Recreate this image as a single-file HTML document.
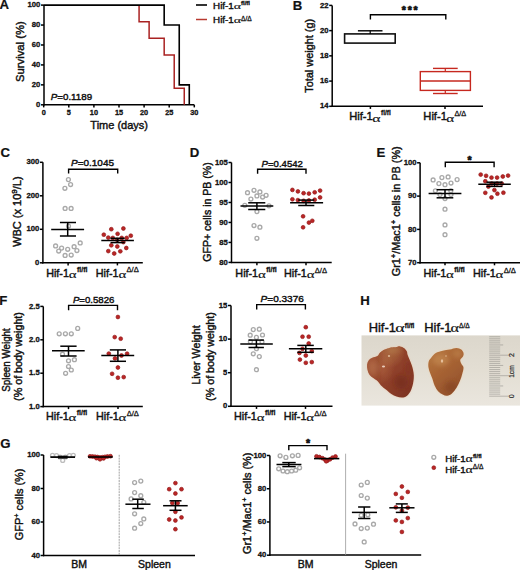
<!DOCTYPE html>
<html><head><meta charset="utf-8"><style>
html,body{margin:0;padding:0;background:#fff;width:520px;height:570px;overflow:hidden}
svg{display:block;font-family:"Liberation Sans", sans-serif}
</style></head><body>
<svg width="520" height="570" viewBox="0 0 520 570">
<rect width="520" height="570" fill="#fff"/>
<text x="-0.43" y="9.1" font-size="13.2" font-weight="bold" text-anchor="start" font-style="normal" fill="#111" stroke="#111" stroke-width="0.2" >A</text>
<line x1="44" y1="5.1" x2="44" y2="105.5" stroke="#000" stroke-width="1.5"/>
<line x1="41" y1="5.1" x2="44" y2="5.1" stroke="#000" stroke-width="1.5"/>
<text x="40.4" y="7.199999999999999" font-size="7.7" font-weight="bold" text-anchor="end" font-style="normal" fill="#111" stroke="#111" stroke-width="0.3" >100</text>
<line x1="41" y1="25.04" x2="44" y2="25.04" stroke="#000" stroke-width="1.5"/>
<text x="40.4" y="27.14" font-size="7.7" font-weight="bold" text-anchor="end" font-style="normal" fill="#111" stroke="#111" stroke-width="0.3" >80</text>
<line x1="41" y1="44.98" x2="44" y2="44.98" stroke="#000" stroke-width="1.5"/>
<text x="40.4" y="47.08" font-size="7.7" font-weight="bold" text-anchor="end" font-style="normal" fill="#111" stroke="#111" stroke-width="0.3" >60</text>
<line x1="41" y1="64.92" x2="44" y2="64.92" stroke="#000" stroke-width="1.5"/>
<text x="40.4" y="67.02" font-size="7.7" font-weight="bold" text-anchor="end" font-style="normal" fill="#111" stroke="#111" stroke-width="0.3" >40</text>
<line x1="41" y1="84.86" x2="44" y2="84.86" stroke="#000" stroke-width="1.5"/>
<text x="40.4" y="86.96" font-size="7.7" font-weight="bold" text-anchor="end" font-style="normal" fill="#111" stroke="#111" stroke-width="0.3" >20</text>
<line x1="41" y1="104.8" x2="44" y2="104.8" stroke="#000" stroke-width="1.5"/>
<text x="40.4" y="106.89999999999999" font-size="7.7" font-weight="bold" text-anchor="end" font-style="normal" fill="#111" stroke="#111" stroke-width="0.3" >0</text>
<line x1="43.3" y1="104.8" x2="194.3" y2="104.8" stroke="#000" stroke-width="1.5"/>
<line x1="43.7" y1="104.8" x2="43.7" y2="107.39999999999999" stroke="#000" stroke-width="1.5"/>
<line x1="68.8" y1="104.8" x2="68.8" y2="107.39999999999999" stroke="#000" stroke-width="1.5"/>
<line x1="93.9" y1="104.8" x2="93.9" y2="107.39999999999999" stroke="#000" stroke-width="1.5"/>
<line x1="119.0" y1="104.8" x2="119.0" y2="107.39999999999999" stroke="#000" stroke-width="1.5"/>
<line x1="144.1" y1="104.8" x2="144.1" y2="107.39999999999999" stroke="#000" stroke-width="1.5"/>
<line x1="169.2" y1="104.8" x2="169.2" y2="107.39999999999999" stroke="#000" stroke-width="1.5"/>
<line x1="194.3" y1="104.8" x2="194.3" y2="107.39999999999999" stroke="#000" stroke-width="1.5"/>
<text x="43.7" y="115.2" font-size="7.3" font-weight="bold" text-anchor="middle" font-style="normal" fill="#111" stroke="#111" stroke-width="0.3" >0</text>
<text x="68.8" y="115.2" font-size="7.3" font-weight="bold" text-anchor="middle" font-style="normal" fill="#111" stroke="#111" stroke-width="0.3" >5</text>
<text x="93.9" y="115.2" font-size="7.3" font-weight="bold" text-anchor="middle" font-style="normal" fill="#111" stroke="#111" stroke-width="0.3" >10</text>
<text x="119.0" y="115.2" font-size="7.3" font-weight="bold" text-anchor="middle" font-style="normal" fill="#111" stroke="#111" stroke-width="0.3" >15</text>
<text x="144.1" y="115.2" font-size="7.3" font-weight="bold" text-anchor="middle" font-style="normal" fill="#111" stroke="#111" stroke-width="0.3" >20</text>
<text x="169.2" y="115.2" font-size="7.3" font-weight="bold" text-anchor="middle" font-style="normal" fill="#111" stroke="#111" stroke-width="0.3" >25</text>
<text x="194.3" y="115.2" font-size="7.3" font-weight="bold" text-anchor="middle" font-style="normal" fill="#111" stroke="#111" stroke-width="0.3" >30</text>
<text x="119.2" y="128.8" font-size="11" font-weight="normal" text-anchor="middle" font-style="normal" fill="#111" stroke="#111" stroke-width="0.42" >Time (days)</text>
<text x="24.5" y="51.6" font-size="11" text-anchor="middle" fill="#111" stroke="#111" stroke-width="0.42" transform="rotate(-90 24.5 51.6)" textLength="60.8" lengthAdjust="spacingAndGlyphs" >Survival (%)</text>
<path d="M139.08,5.1 V21.72 H149.12 V38.33 H164.18 V54.95 H174.22 V88.18 H184.26 V104.8" stroke="#a92222" stroke-width="1.5" fill="none" />
<path d="M44,5.1 H164.18 V25.04 H179.24 V84.86 H189.28 V104.8" stroke="#000" stroke-width="1.6" fill="none" />
<line x1="196" y1="5" x2="207" y2="5" stroke="#000" stroke-width="1.6"/>
<line x1="196" y1="19.5" x2="207" y2="19.5" stroke="#b83a30" stroke-width="1.5"/>
<text x="213.12" y="9.1" font-size="9.8" fill="#111" stroke="#111" stroke-width="0.42">Hif-1</text>
<text transform="translate(234.20 9.10) scale(1.530 1)" x="-0.36" y="0" font-size="9.05" font-family="Liberation Serif, serif" fill="#111" stroke="#111" stroke-width="0.15">&#945;</text>
<text x="240.91" y="5.20" font-size="6.1" font-weight="bold" fill="#111" stroke="#111" stroke-width="0.29">fl/fl</text>
<text x="213.12" y="23.4" font-size="9.8" fill="#111" stroke="#111" stroke-width="0.42">Hif-1</text>
<text transform="translate(234.20 23.40) scale(1.530 1)" x="-0.36" y="0" font-size="9.05" font-family="Liberation Serif, serif" fill="#111" stroke="#111" stroke-width="0.15">&#945;</text>
<text x="241.11" y="20.80" font-size="6.6" font-weight="normal" fill="#111" stroke="#111" stroke-width="0.29">&#916;/&#916;</text>
<text x="50.8" y="99.6" font-size="9.5" fill="#111" stroke="#111" stroke-width="0.42" textLength="41.3" lengthAdjust="spacingAndGlyphs"><tspan font-style="italic">P</tspan>=0.1189</text>
<text x="292.84" y="9.6" font-size="13.2" font-weight="bold" text-anchor="start" font-style="normal" fill="#111" stroke="#111" stroke-width="0.2" >B</text>
<line x1="332.2" y1="5.4" x2="332.2" y2="107.0" stroke="#000" stroke-width="1.5"/>
<line x1="329.2" y1="5.4" x2="332.2" y2="5.4" stroke="#000" stroke-width="1.5"/>
<text x="328.59999999999997" y="7.5" font-size="7.7" font-weight="bold" text-anchor="end" font-style="normal" fill="#111" stroke="#111" stroke-width="0.3" >22</text>
<line x1="329.2" y1="30.62" x2="332.2" y2="30.62" stroke="#000" stroke-width="1.5"/>
<text x="328.59999999999997" y="32.72" font-size="7.7" font-weight="bold" text-anchor="end" font-style="normal" fill="#111" stroke="#111" stroke-width="0.3" >20</text>
<line x1="329.2" y1="55.85" x2="332.2" y2="55.85" stroke="#000" stroke-width="1.5"/>
<text x="328.59999999999997" y="57.95" font-size="7.7" font-weight="bold" text-anchor="end" font-style="normal" fill="#111" stroke="#111" stroke-width="0.3" >18</text>
<line x1="329.2" y1="81.08" x2="332.2" y2="81.08" stroke="#000" stroke-width="1.5"/>
<text x="328.59999999999997" y="83.17999999999999" font-size="7.7" font-weight="bold" text-anchor="end" font-style="normal" fill="#111" stroke="#111" stroke-width="0.3" >16</text>
<line x1="329.2" y1="106.3" x2="332.2" y2="106.3" stroke="#000" stroke-width="1.5"/>
<text x="328.59999999999997" y="108.39999999999999" font-size="7.7" font-weight="bold" text-anchor="end" font-style="normal" fill="#111" stroke="#111" stroke-width="0.3" >14</text>
<line x1="331.5" y1="106.3" x2="483" y2="106.3" stroke="#000" stroke-width="1.5"/>
<line x1="370.4" y1="106.3" x2="370.4" y2="108.89999999999999" stroke="#000" stroke-width="1.5"/>
<line x1="445" y1="106.3" x2="445" y2="108.89999999999999" stroke="#000" stroke-width="1.5"/>
<text x="313.5" y="55.8" font-size="11" text-anchor="middle" fill="#111" stroke="#111" stroke-width="0.42" transform="rotate(-90 313.5 55.8)" textLength="74" lengthAdjust="spacingAndGlyphs" >Total weight (g)</text>
<text x="349.20" y="119.8" font-size="11.2" fill="#111" stroke="#111" stroke-width="0.42">Hif-1</text>
<text transform="translate(372.88 121.90) scale(1.418 1)" x="-0.45" y="0" font-size="11.16" font-family="Liberation Serif, serif" fill="#111" stroke="#111" stroke-width="0.15">&#945;</text>
<text x="381.08" y="114.50" font-size="6.4" font-weight="bold" fill="#111" stroke="#111" stroke-width="0.29">fl/fl</text>
<text x="423.30" y="119.8" font-size="11.2" fill="#111" stroke="#111" stroke-width="0.42">Hif-1</text>
<text transform="translate(446.98 121.90) scale(1.359 1)" x="-0.45" y="0" font-size="11.16" font-family="Liberation Serif, serif" fill="#111" stroke="#111" stroke-width="0.15">&#945;</text>
<text x="454.46" y="116.10" font-size="7.3" font-weight="normal" fill="#111" stroke="#111" stroke-width="0.29">&#916;/&#916;</text>
<rect x="344.6" y="33.9" width="50.6" height="9.2" fill="none" stroke="#111" stroke-width="1.6"/>
<line x1="357.9" y1="30.8" x2="382.5" y2="30.8" stroke="#000" stroke-width="1.4"/>
<line x1="370.2" y1="30.8" x2="370.2" y2="33.9" stroke="#000" stroke-width="1.2"/>
<rect x="420.3" y="71.6" width="50.1" height="18.8" fill="none" stroke="#c6281f" stroke-width="1.4"/>
<line x1="420.3" y1="81.0" x2="470.4" y2="81.0" stroke="#c6281f" stroke-width="1.4"/>
<line x1="433" y1="68.4" x2="457.7" y2="68.4" stroke="#c6281f" stroke-width="1.4"/>
<line x1="433" y1="93.5" x2="457.7" y2="93.5" stroke="#c6281f" stroke-width="1.4"/>
<line x1="445.3" y1="68.4" x2="445.3" y2="71.6" stroke="#c6281f" stroke-width="1.2"/>
<line x1="445.3" y1="90.4" x2="445.3" y2="93.5" stroke="#c6281f" stroke-width="1.2"/>
<path d="M370.4,19.6 V14.8 H445.8 V19.6" stroke="#000" stroke-width="1.4" fill="none" />
<text x="401.85" y="13.76" font-size="10.5" font-weight="bold" fill="#111" stroke="#111" stroke-width="0.7" stroke-linejoin="round">*</text>
<text x="407.65" y="13.76" font-size="10.5" font-weight="bold" fill="#111" stroke="#111" stroke-width="0.7" stroke-linejoin="round">*</text>
<text x="413.45" y="13.76" font-size="10.5" font-weight="bold" fill="#111" stroke="#111" stroke-width="0.7" stroke-linejoin="round">*</text>
<text x="0.47" y="156.6" font-size="13.2" font-weight="bold" text-anchor="start" font-style="normal" fill="#111" stroke="#111" stroke-width="0.2" >C</text>
<line x1="42.9" y1="162.3" x2="42.9" y2="263.5" stroke="#000" stroke-width="1.5"/>
<line x1="39.9" y1="162.3" x2="42.9" y2="162.3" stroke="#000" stroke-width="1.5"/>
<text x="39.3" y="164.4" font-size="7.7" font-weight="bold" text-anchor="end" font-style="normal" fill="#111" stroke="#111" stroke-width="0.3" >300</text>
<line x1="39.9" y1="195.8" x2="42.9" y2="195.8" stroke="#000" stroke-width="1.5"/>
<text x="39.3" y="197.9" font-size="7.7" font-weight="bold" text-anchor="end" font-style="normal" fill="#111" stroke="#111" stroke-width="0.3" >200</text>
<line x1="39.9" y1="229.3" x2="42.9" y2="229.3" stroke="#000" stroke-width="1.5"/>
<text x="39.3" y="231.4" font-size="7.7" font-weight="bold" text-anchor="end" font-style="normal" fill="#111" stroke="#111" stroke-width="0.3" >100</text>
<line x1="39.9" y1="262.8" x2="42.9" y2="262.8" stroke="#000" stroke-width="1.5"/>
<text x="39.3" y="264.90000000000003" font-size="7.7" font-weight="bold" text-anchor="end" font-style="normal" fill="#111" stroke="#111" stroke-width="0.3" >0</text>
<line x1="42.199999999999996" y1="262.8" x2="142.8" y2="262.8" stroke="#000" stroke-width="1.5"/>
<line x1="68.1" y1="262.8" x2="68.1" y2="265.40000000000003" stroke="#000" stroke-width="1.5"/>
<line x1="117.4" y1="262.8" x2="117.4" y2="265.40000000000003" stroke="#000" stroke-width="1.5"/>
<text x="20.8" y="211.6" font-size="10.5" text-anchor="middle" fill="#111" stroke="#111" stroke-width="0.42" transform="rotate(-90 20.8 211.6)" textLength="70.5" lengthAdjust="spacingAndGlyphs" >WBC (x 10<tspan dy="-4" font-size="7.8">9</tspan><tspan dy="4">/L)</tspan></text>
<text x="46.14" y="276.5" font-size="10.8" fill="#111" stroke="#111" stroke-width="0.42">Hif-1</text>
<text transform="translate(69.38 277.70) scale(1.339 1)" x="-0.45" y="0" font-size="11.16" font-family="Liberation Serif, serif" fill="#111" stroke="#111" stroke-width="0.15">&#945;</text>
<text x="76.98" y="271.60" font-size="7.0" font-weight="bold" fill="#111" stroke="#111" stroke-width="0.29">fl/fl</text>
<text x="95.74" y="276.5" font-size="10.8" fill="#111" stroke="#111" stroke-width="0.42">Hif-1</text>
<text transform="translate(118.98 277.70) scale(1.339 1)" x="-0.45" y="0" font-size="11.16" font-family="Liberation Serif, serif" fill="#111" stroke="#111" stroke-width="0.15">&#945;</text>
<text x="126.46" y="272.20" font-size="7.6" font-weight="normal" fill="#111" stroke="#111" stroke-width="0.29">&#916;/&#916;</text>
<path d="M68.6,173.4 V169.2 H117.7 V173.4" stroke="#000" stroke-width="1.4" fill="none" />
<text x="71" y="166" font-size="9.5" fill="#111" stroke="#111" stroke-width="0.42" textLength="43" lengthAdjust="spacingAndGlyphs"><tspan font-style="italic">P</tspan>=0.1045</text>
<circle cx="64.9" cy="188.3" r="1.95" fill="none" stroke="#a9a9a9" stroke-width="1.35"/>
<circle cx="68.4" cy="179.6" r="1.95" fill="none" stroke="#a9a9a9" stroke-width="1.35"/>
<circle cx="70.6" cy="184.5" r="1.95" fill="none" stroke="#a9a9a9" stroke-width="1.35"/>
<circle cx="65.1" cy="208.4" r="1.95" fill="none" stroke="#a9a9a9" stroke-width="1.35"/>
<circle cx="71.1" cy="208.4" r="1.95" fill="none" stroke="#a9a9a9" stroke-width="1.35"/>
<circle cx="68.5" cy="226" r="1.95" fill="none" stroke="#a9a9a9" stroke-width="1.35"/>
<circle cx="55.6" cy="245.9" r="1.95" fill="none" stroke="#a9a9a9" stroke-width="1.35"/>
<circle cx="58.7" cy="251" r="1.95" fill="none" stroke="#a9a9a9" stroke-width="1.35"/>
<circle cx="61.6" cy="248.1" r="1.95" fill="none" stroke="#a9a9a9" stroke-width="1.35"/>
<circle cx="67.7" cy="249.3" r="1.95" fill="none" stroke="#a9a9a9" stroke-width="1.35"/>
<circle cx="74.1" cy="246.7" r="1.95" fill="none" stroke="#a9a9a9" stroke-width="1.35"/>
<circle cx="76.9" cy="250.5" r="1.95" fill="none" stroke="#a9a9a9" stroke-width="1.35"/>
<circle cx="80.2" cy="242.9" r="1.95" fill="none" stroke="#a9a9a9" stroke-width="1.35"/>
<circle cx="65.1" cy="255.4" r="1.95" fill="none" stroke="#a9a9a9" stroke-width="1.35"/>
<circle cx="71.2" cy="255" r="1.95" fill="none" stroke="#a9a9a9" stroke-width="1.35"/>
<line x1="51.2" y1="229.4" x2="84.1" y2="229.4" stroke="#000" stroke-width="1.5"/>
<line x1="59.9" y1="222.5" x2="76" y2="222.5" stroke="#000" stroke-width="1.5"/>
<line x1="59.9" y1="236" x2="76" y2="236" stroke="#000" stroke-width="1.5"/>
<line x1="67.7" y1="222.5" x2="67.7" y2="236" stroke="#000" stroke-width="1.5"/>
<circle cx="111.3" cy="229.2" r="1.9" fill="#ba2626" stroke="#951b1b" stroke-width="0.7"/>
<circle cx="123.4" cy="228.5" r="1.9" fill="#ba2626" stroke="#951b1b" stroke-width="0.7"/>
<circle cx="103.8" cy="234.7" r="1.9" fill="#ba2626" stroke="#951b1b" stroke-width="0.7"/>
<circle cx="117.6" cy="233.8" r="1.9" fill="#ba2626" stroke="#951b1b" stroke-width="0.7"/>
<circle cx="130.8" cy="235.7" r="1.9" fill="#ba2626" stroke="#951b1b" stroke-width="0.7"/>
<circle cx="108.3" cy="237.6" r="1.9" fill="#ba2626" stroke="#951b1b" stroke-width="0.7"/>
<circle cx="112.8" cy="237.9" r="1.9" fill="#ba2626" stroke="#951b1b" stroke-width="0.7"/>
<circle cx="121.7" cy="237.9" r="1.9" fill="#ba2626" stroke="#951b1b" stroke-width="0.7"/>
<circle cx="126.7" cy="237.9" r="1.9" fill="#ba2626" stroke="#951b1b" stroke-width="0.7"/>
<circle cx="117.1" cy="239.8" r="1.9" fill="#ba2626" stroke="#951b1b" stroke-width="0.7"/>
<circle cx="123.4" cy="242.1" r="1.9" fill="#ba2626" stroke="#951b1b" stroke-width="0.7"/>
<circle cx="111.3" cy="245.3" r="1.9" fill="#ba2626" stroke="#951b1b" stroke-width="0.7"/>
<circle cx="117.3" cy="246.5" r="1.9" fill="#ba2626" stroke="#951b1b" stroke-width="0.7"/>
<circle cx="126.3" cy="248" r="1.9" fill="#ba2626" stroke="#951b1b" stroke-width="0.7"/>
<circle cx="108.3" cy="251.1" r="1.9" fill="#ba2626" stroke="#951b1b" stroke-width="0.7"/>
<circle cx="120.3" cy="251.3" r="1.9" fill="#ba2626" stroke="#951b1b" stroke-width="0.7"/>
<circle cx="114.2" cy="253.5" r="1.9" fill="#ba2626" stroke="#951b1b" stroke-width="0.7"/>
<line x1="101.3" y1="240.5" x2="133.9" y2="240.5" stroke="#000" stroke-width="1.5"/>
<line x1="110.5" y1="238.3" x2="124.7" y2="238.3" stroke="#000" stroke-width="1.5"/>
<line x1="110.5" y1="242.6" x2="124.7" y2="242.6" stroke="#000" stroke-width="1.5"/>
<line x1="117.6" y1="238.3" x2="117.6" y2="242.6" stroke="#000" stroke-width="1.5"/>
<text x="189.64" y="157.0" font-size="13.2" font-weight="bold" text-anchor="start" font-style="normal" fill="#111" stroke="#111" stroke-width="0.2" >D</text>
<line x1="231.5" y1="162.5" x2="231.5" y2="263.09999999999997" stroke="#000" stroke-width="1.5"/>
<line x1="228.5" y1="162.5" x2="231.5" y2="162.5" stroke="#000" stroke-width="1.5"/>
<text x="227.9" y="164.6" font-size="7.7" font-weight="bold" text-anchor="end" font-style="normal" fill="#111" stroke="#111" stroke-width="0.3" >105</text>
<line x1="228.5" y1="182.48" x2="231.5" y2="182.48" stroke="#000" stroke-width="1.5"/>
<text x="227.9" y="184.57999999999998" font-size="7.7" font-weight="bold" text-anchor="end" font-style="normal" fill="#111" stroke="#111" stroke-width="0.3" >100</text>
<line x1="228.5" y1="202.46" x2="231.5" y2="202.46" stroke="#000" stroke-width="1.5"/>
<text x="227.9" y="204.56" font-size="7.7" font-weight="bold" text-anchor="end" font-style="normal" fill="#111" stroke="#111" stroke-width="0.3" >95</text>
<line x1="228.5" y1="222.44" x2="231.5" y2="222.44" stroke="#000" stroke-width="1.5"/>
<text x="227.9" y="224.54" font-size="7.7" font-weight="bold" text-anchor="end" font-style="normal" fill="#111" stroke="#111" stroke-width="0.3" >90</text>
<line x1="228.5" y1="242.42" x2="231.5" y2="242.42" stroke="#000" stroke-width="1.5"/>
<text x="227.9" y="244.51999999999998" font-size="7.7" font-weight="bold" text-anchor="end" font-style="normal" fill="#111" stroke="#111" stroke-width="0.3" >85</text>
<line x1="228.5" y1="262.4" x2="231.5" y2="262.4" stroke="#000" stroke-width="1.5"/>
<text x="227.9" y="264.5" font-size="7.7" font-weight="bold" text-anchor="end" font-style="normal" fill="#111" stroke="#111" stroke-width="0.3" >80</text>
<line x1="230.8" y1="262.6" x2="331.7" y2="262.6" stroke="#000" stroke-width="1.5"/>
<line x1="256.9" y1="262.6" x2="256.9" y2="265.20000000000005" stroke="#000" stroke-width="1.5"/>
<line x1="306" y1="262.6" x2="306" y2="265.20000000000005" stroke="#000" stroke-width="1.5"/>
<text x="211" y="212" font-size="10.5" text-anchor="middle" fill="#111" stroke="#111" stroke-width="0.42" transform="rotate(-90 211 212)" textLength="99.5" lengthAdjust="spacingAndGlyphs" >GFP+ cells in PB (%)</text>
<text x="235.34" y="276.8" font-size="10.8" fill="#111" stroke="#111" stroke-width="0.42">Hif-1</text>
<text transform="translate(258.58 278.00) scale(1.339 1)" x="-0.45" y="0" font-size="11.16" font-family="Liberation Serif, serif" fill="#111" stroke="#111" stroke-width="0.15">&#945;</text>
<text x="266.18" y="271.90" font-size="7.0" font-weight="bold" fill="#111" stroke="#111" stroke-width="0.29">fl/fl</text>
<text x="284.04" y="276.8" font-size="10.8" fill="#111" stroke="#111" stroke-width="0.42">Hif-1</text>
<text transform="translate(307.28 278.00) scale(1.339 1)" x="-0.45" y="0" font-size="11.16" font-family="Liberation Serif, serif" fill="#111" stroke="#111" stroke-width="0.15">&#945;</text>
<text x="314.76" y="272.50" font-size="7.6" font-weight="normal" fill="#111" stroke="#111" stroke-width="0.29">&#916;/&#916;</text>
<path d="M257.6,173.8 V169.2 H306 V173.8" stroke="#000" stroke-width="1.4" fill="none" />
<text x="261.6" y="166.5" font-size="9.5" fill="#111" stroke="#111" stroke-width="0.42" textLength="41.3" lengthAdjust="spacingAndGlyphs"><tspan font-style="italic">P</tspan>=0.4542</text>
<circle cx="247.5" cy="192.7" r="1.95" fill="none" stroke="#a9a9a9" stroke-width="1.35"/>
<circle cx="254" cy="190.3" r="1.95" fill="none" stroke="#a9a9a9" stroke-width="1.35"/>
<circle cx="259.9" cy="191.9" r="1.95" fill="none" stroke="#a9a9a9" stroke-width="1.35"/>
<circle cx="256.9" cy="195.9" r="1.95" fill="none" stroke="#a9a9a9" stroke-width="1.35"/>
<circle cx="262.6" cy="197" r="1.95" fill="none" stroke="#a9a9a9" stroke-width="1.35"/>
<circle cx="266.1" cy="195.3" r="1.95" fill="none" stroke="#a9a9a9" stroke-width="1.35"/>
<circle cx="250.9" cy="199" r="1.95" fill="none" stroke="#a9a9a9" stroke-width="1.35"/>
<circle cx="244.8" cy="205.3" r="1.95" fill="none" stroke="#a9a9a9" stroke-width="1.35"/>
<circle cx="269" cy="205.8" r="1.95" fill="none" stroke="#a9a9a9" stroke-width="1.35"/>
<circle cx="256.9" cy="211.6" r="1.95" fill="none" stroke="#a9a9a9" stroke-width="1.35"/>
<circle cx="254" cy="225.5" r="1.95" fill="none" stroke="#a9a9a9" stroke-width="1.35"/>
<circle cx="259.9" cy="227.2" r="1.95" fill="none" stroke="#a9a9a9" stroke-width="1.35"/>
<circle cx="256.9" cy="238.3" r="1.95" fill="none" stroke="#a9a9a9" stroke-width="1.35"/>
<line x1="240.5" y1="206" x2="273.3" y2="206" stroke="#000" stroke-width="1.5"/>
<line x1="248.2" y1="202.8" x2="265.3" y2="202.8" stroke="#000" stroke-width="1.5"/>
<line x1="248.2" y1="209.5" x2="265.3" y2="209.5" stroke="#000" stroke-width="1.5"/>
<line x1="256.9" y1="202.8" x2="256.9" y2="209.5" stroke="#000" stroke-width="1.5"/>
<circle cx="292.4" cy="189.9" r="1.9" fill="#ba2626" stroke="#951b1b" stroke-width="0.7"/>
<circle cx="297.9" cy="191.4" r="1.9" fill="#ba2626" stroke="#951b1b" stroke-width="0.7"/>
<circle cx="303.6" cy="193.2" r="1.9" fill="#ba2626" stroke="#951b1b" stroke-width="0.7"/>
<circle cx="308.9" cy="193.6" r="1.9" fill="#ba2626" stroke="#951b1b" stroke-width="0.7"/>
<circle cx="314.7" cy="192.3" r="1.9" fill="#ba2626" stroke="#951b1b" stroke-width="0.7"/>
<circle cx="320.1" cy="190.6" r="1.9" fill="#ba2626" stroke="#951b1b" stroke-width="0.7"/>
<circle cx="292.4" cy="199.3" r="1.9" fill="#ba2626" stroke="#951b1b" stroke-width="0.7"/>
<circle cx="297.9" cy="200.1" r="1.9" fill="#ba2626" stroke="#951b1b" stroke-width="0.7"/>
<circle cx="303.6" cy="200.8" r="1.9" fill="#ba2626" stroke="#951b1b" stroke-width="0.7"/>
<circle cx="308.9" cy="200.4" r="1.9" fill="#ba2626" stroke="#951b1b" stroke-width="0.7"/>
<circle cx="314.7" cy="199.7" r="1.9" fill="#ba2626" stroke="#951b1b" stroke-width="0.7"/>
<circle cx="320.1" cy="197.4" r="1.9" fill="#ba2626" stroke="#951b1b" stroke-width="0.7"/>
<circle cx="303.1" cy="216.3" r="1.9" fill="#ba2626" stroke="#951b1b" stroke-width="0.7"/>
<circle cx="308.9" cy="222.6" r="1.9" fill="#ba2626" stroke="#951b1b" stroke-width="0.7"/>
<circle cx="312.3" cy="220.8" r="1.9" fill="#ba2626" stroke="#951b1b" stroke-width="0.7"/>
<circle cx="303.1" cy="227.3" r="1.9" fill="#ba2626" stroke="#951b1b" stroke-width="0.7"/>
<line x1="290.1" y1="202.8" x2="323.1" y2="202.8" stroke="#000" stroke-width="1.5"/>
<line x1="298.2" y1="200.1" x2="314.3" y2="200.1" stroke="#000" stroke-width="1.5"/>
<line x1="298.2" y1="205.5" x2="314.3" y2="205.5" stroke="#000" stroke-width="1.5"/>
<line x1="306" y1="200.1" x2="306" y2="205.5" stroke="#000" stroke-width="1.5"/>
<text x="376.54" y="157.29999999999998" font-size="13.2" font-weight="bold" text-anchor="start" font-style="normal" fill="#111" stroke="#111" stroke-width="0.2" >E</text>
<line x1="420.1" y1="162.8" x2="420.1" y2="263.4" stroke="#000" stroke-width="1.5"/>
<line x1="417.1" y1="162.8" x2="420.1" y2="162.8" stroke="#000" stroke-width="1.5"/>
<text x="416.5" y="164.9" font-size="7.7" font-weight="bold" text-anchor="end" font-style="normal" fill="#111" stroke="#111" stroke-width="0.3" >100</text>
<line x1="417.1" y1="196.1" x2="420.1" y2="196.1" stroke="#000" stroke-width="1.5"/>
<text x="416.5" y="198.2" font-size="7.7" font-weight="bold" text-anchor="end" font-style="normal" fill="#111" stroke="#111" stroke-width="0.3" >90</text>
<line x1="417.1" y1="229.4" x2="420.1" y2="229.4" stroke="#000" stroke-width="1.5"/>
<text x="416.5" y="231.5" font-size="7.7" font-weight="bold" text-anchor="end" font-style="normal" fill="#111" stroke="#111" stroke-width="0.3" >80</text>
<line x1="417.1" y1="262.7" x2="420.1" y2="262.7" stroke="#000" stroke-width="1.5"/>
<text x="416.5" y="264.8" font-size="7.7" font-weight="bold" text-anchor="end" font-style="normal" fill="#111" stroke="#111" stroke-width="0.3" >70</text>
<line x1="419.40000000000003" y1="262.7" x2="520" y2="262.7" stroke="#000" stroke-width="1.5"/>
<line x1="445" y1="262.7" x2="445" y2="265.3" stroke="#000" stroke-width="1.5"/>
<line x1="494.5" y1="262.7" x2="494.5" y2="265.3" stroke="#000" stroke-width="1.5"/>
<text x="400.2" y="211.3" font-size="10.8" text-anchor="middle" fill="#111" stroke="#111" stroke-width="0.42" transform="rotate(-90 400.2 211.3)" textLength="130" lengthAdjust="spacingAndGlyphs" >Gr1<tspan dy="-4" font-size="7.5">+</tspan><tspan dy="4">/Mac1</tspan><tspan dy="-4" font-size="7.5">+</tspan><tspan dy="4"> cells in PB (%)</tspan></text>
<text x="423.44" y="277.0" font-size="10.8" fill="#111" stroke="#111" stroke-width="0.42">Hif-1</text>
<text transform="translate(446.68 278.20) scale(1.339 1)" x="-0.45" y="0" font-size="11.16" font-family="Liberation Serif, serif" fill="#111" stroke="#111" stroke-width="0.15">&#945;</text>
<text x="454.28" y="272.10" font-size="7.0" font-weight="bold" fill="#111" stroke="#111" stroke-width="0.29">fl/fl</text>
<text x="472.94" y="277.0" font-size="10.8" fill="#111" stroke="#111" stroke-width="0.42">Hif-1</text>
<text transform="translate(496.18 278.20) scale(1.339 1)" x="-0.45" y="0" font-size="11.16" font-family="Liberation Serif, serif" fill="#111" stroke="#111" stroke-width="0.15">&#945;</text>
<text x="503.66" y="272.70" font-size="7.6" font-weight="normal" fill="#111" stroke="#111" stroke-width="0.29">&#916;/&#916;</text>
<path d="M445.3,167.2 V162.3 H494.1 V167.2" stroke="#000" stroke-width="1.4" fill="none" />
<text x="467.55" y="163.55" font-size="10.5" font-weight="bold" fill="#111" stroke="#111" stroke-width="0.7" stroke-linejoin="round">*</text>
<circle cx="433.1" cy="179.9" r="1.95" fill="none" stroke="#a9a9a9" stroke-width="1.35"/>
<circle cx="441.9" cy="177.6" r="1.95" fill="none" stroke="#a9a9a9" stroke-width="1.35"/>
<circle cx="448.1" cy="176.9" r="1.95" fill="none" stroke="#a9a9a9" stroke-width="1.35"/>
<circle cx="457.1" cy="179.6" r="1.95" fill="none" stroke="#a9a9a9" stroke-width="1.35"/>
<circle cx="438.9" cy="183.6" r="1.95" fill="none" stroke="#a9a9a9" stroke-width="1.35"/>
<circle cx="445" cy="184.7" r="1.95" fill="none" stroke="#a9a9a9" stroke-width="1.35"/>
<circle cx="451" cy="183" r="1.95" fill="none" stroke="#a9a9a9" stroke-width="1.35"/>
<circle cx="435.4" cy="190.8" r="1.95" fill="none" stroke="#a9a9a9" stroke-width="1.35"/>
<circle cx="450.8" cy="190.8" r="1.95" fill="none" stroke="#a9a9a9" stroke-width="1.35"/>
<circle cx="445" cy="198.5" r="1.95" fill="none" stroke="#a9a9a9" stroke-width="1.35"/>
<circle cx="440" cy="194.5" r="1.95" fill="none" stroke="#a9a9a9" stroke-width="1.35"/>
<circle cx="451" cy="194.5" r="1.95" fill="none" stroke="#a9a9a9" stroke-width="1.35"/>
<circle cx="445" cy="209.2" r="1.95" fill="none" stroke="#a9a9a9" stroke-width="1.35"/>
<circle cx="445" cy="224.9" r="1.95" fill="none" stroke="#a9a9a9" stroke-width="1.35"/>
<circle cx="445" cy="234.7" r="1.95" fill="none" stroke="#a9a9a9" stroke-width="1.35"/>
<line x1="428.6" y1="193.5" x2="461.4" y2="193.5" stroke="#000" stroke-width="1.5"/>
<line x1="436.6" y1="189.7" x2="453.3" y2="189.7" stroke="#000" stroke-width="1.5"/>
<line x1="436.6" y1="197.8" x2="453.3" y2="197.8" stroke="#000" stroke-width="1.5"/>
<line x1="445" y1="189.7" x2="445" y2="197.8" stroke="#000" stroke-width="1.5"/>
<circle cx="480.7" cy="174.6" r="1.9" fill="#ba2626" stroke="#951b1b" stroke-width="0.7"/>
<circle cx="486.1" cy="175.8" r="1.9" fill="#ba2626" stroke="#951b1b" stroke-width="0.7"/>
<circle cx="491.5" cy="177.6" r="1.9" fill="#ba2626" stroke="#951b1b" stroke-width="0.7"/>
<circle cx="497.1" cy="177.6" r="1.9" fill="#ba2626" stroke="#951b1b" stroke-width="0.7"/>
<circle cx="502.8" cy="176.5" r="1.9" fill="#ba2626" stroke="#951b1b" stroke-width="0.7"/>
<circle cx="508.1" cy="175.6" r="1.9" fill="#ba2626" stroke="#951b1b" stroke-width="0.7"/>
<circle cx="485.3" cy="181.2" r="1.9" fill="#ba2626" stroke="#951b1b" stroke-width="0.7"/>
<circle cx="491.7" cy="183.6" r="1.9" fill="#ba2626" stroke="#951b1b" stroke-width="0.7"/>
<circle cx="497.1" cy="183.6" r="1.9" fill="#ba2626" stroke="#951b1b" stroke-width="0.7"/>
<circle cx="501.8" cy="183.6" r="1.9" fill="#ba2626" stroke="#951b1b" stroke-width="0.7"/>
<circle cx="488.4" cy="186.6" r="1.9" fill="#ba2626" stroke="#951b1b" stroke-width="0.7"/>
<circle cx="494.4" cy="190.1" r="1.9" fill="#ba2626" stroke="#951b1b" stroke-width="0.7"/>
<circle cx="485.3" cy="192.8" r="1.9" fill="#ba2626" stroke="#951b1b" stroke-width="0.7"/>
<circle cx="497.4" cy="193.7" r="1.9" fill="#ba2626" stroke="#951b1b" stroke-width="0.7"/>
<circle cx="503.4" cy="192.7" r="1.9" fill="#ba2626" stroke="#951b1b" stroke-width="0.7"/>
<circle cx="491.5" cy="197.4" r="1.9" fill="#ba2626" stroke="#951b1b" stroke-width="0.7"/>
<line x1="478.3" y1="184.3" x2="510.8" y2="184.3" stroke="#000" stroke-width="1.5"/>
<line x1="486.5" y1="182.2" x2="502.5" y2="182.2" stroke="#000" stroke-width="1.5"/>
<line x1="486.5" y1="186.4" x2="502.5" y2="186.4" stroke="#000" stroke-width="1.5"/>
<line x1="494.5" y1="182.2" x2="494.5" y2="186.4" stroke="#000" stroke-width="1.5"/>
<text x="-0.86" y="304.6" font-size="13.2" font-weight="bold" text-anchor="start" font-style="normal" fill="#111" stroke="#111" stroke-width="0.2" >F</text>
<line x1="43.3" y1="306.4" x2="43.3" y2="407.3" stroke="#000" stroke-width="1.5"/>
<line x1="40.3" y1="306.4" x2="43.3" y2="306.4" stroke="#000" stroke-width="1.5"/>
<text x="39.699999999999996" y="308.5" font-size="7.7" font-weight="bold" text-anchor="end" font-style="normal" fill="#111" stroke="#111" stroke-width="0.3" >2.5</text>
<line x1="40.3" y1="339.8" x2="43.3" y2="339.8" stroke="#000" stroke-width="1.5"/>
<text x="39.699999999999996" y="341.90000000000003" font-size="7.7" font-weight="bold" text-anchor="end" font-style="normal" fill="#111" stroke="#111" stroke-width="0.3" >2.0</text>
<line x1="40.3" y1="373.2" x2="43.3" y2="373.2" stroke="#000" stroke-width="1.5"/>
<text x="39.699999999999996" y="375.3" font-size="7.7" font-weight="bold" text-anchor="end" font-style="normal" fill="#111" stroke="#111" stroke-width="0.3" >1.5</text>
<line x1="40.3" y1="406.6" x2="43.3" y2="406.6" stroke="#000" stroke-width="1.5"/>
<text x="39.699999999999996" y="408.70000000000005" font-size="7.7" font-weight="bold" text-anchor="end" font-style="normal" fill="#111" stroke="#111" stroke-width="0.3" >1.0</text>
<line x1="42.599999999999994" y1="406.5" x2="142.8" y2="406.5" stroke="#000" stroke-width="1.5"/>
<line x1="68.5" y1="406.5" x2="68.5" y2="409.1" stroke="#000" stroke-width="1.5"/>
<line x1="118" y1="406.5" x2="118" y2="409.1" stroke="#000" stroke-width="1.5"/>
<text x="9.6" y="360" font-size="10.5" text-anchor="middle" fill="#111" stroke="#111" stroke-width="0.42" transform="rotate(-90 9.6 360)" textLength="63.5" lengthAdjust="spacingAndGlyphs" >Spleen Weight</text>
<text x="21.8" y="356.5" font-size="10.5" text-anchor="middle" fill="#111" stroke="#111" stroke-width="0.42" transform="rotate(-90 21.8 356.5)" textLength="88.8" lengthAdjust="spacingAndGlyphs" >(% of body weight)</text>
<text x="45.94" y="419.9" font-size="10.8" fill="#111" stroke="#111" stroke-width="0.42">Hif-1</text>
<text transform="translate(69.18 421.10) scale(1.339 1)" x="-0.45" y="0" font-size="11.16" font-family="Liberation Serif, serif" fill="#111" stroke="#111" stroke-width="0.15">&#945;</text>
<text x="76.78" y="415.00" font-size="7.0" font-weight="bold" fill="#111" stroke="#111" stroke-width="0.29">fl/fl</text>
<text x="95.94" y="419.9" font-size="10.8" fill="#111" stroke="#111" stroke-width="0.42">Hif-1</text>
<text transform="translate(119.18 421.10) scale(1.339 1)" x="-0.45" y="0" font-size="11.16" font-family="Liberation Serif, serif" fill="#111" stroke="#111" stroke-width="0.15">&#945;</text>
<text x="126.66" y="415.60" font-size="7.6" font-weight="normal" fill="#111" stroke="#111" stroke-width="0.29">&#916;/&#916;</text>
<path d="M68.6,310.2 V305.4 H117.5 V310.2" stroke="#000" stroke-width="1.4" fill="none" />
<text x="72.9" y="303.3" font-size="9.5" fill="#111" stroke="#111" stroke-width="0.42" textLength="41.5" lengthAdjust="spacingAndGlyphs"><tspan font-style="italic">P</tspan>=0.5826</text>
<circle cx="59.2" cy="333.8" r="1.95" fill="none" stroke="#a9a9a9" stroke-width="1.35"/>
<circle cx="65.4" cy="333.8" r="1.95" fill="none" stroke="#a9a9a9" stroke-width="1.35"/>
<circle cx="71.3" cy="333.8" r="1.95" fill="none" stroke="#a9a9a9" stroke-width="1.35"/>
<circle cx="77.7" cy="328.4" r="1.95" fill="none" stroke="#a9a9a9" stroke-width="1.35"/>
<circle cx="62.5" cy="354.2" r="1.95" fill="none" stroke="#a9a9a9" stroke-width="1.35"/>
<circle cx="68.5" cy="360.8" r="1.95" fill="none" stroke="#a9a9a9" stroke-width="1.35"/>
<circle cx="74.4" cy="359.7" r="1.95" fill="none" stroke="#a9a9a9" stroke-width="1.35"/>
<circle cx="68.5" cy="366.5" r="1.95" fill="none" stroke="#a9a9a9" stroke-width="1.35"/>
<circle cx="71.3" cy="370" r="1.95" fill="none" stroke="#a9a9a9" stroke-width="1.35"/>
<circle cx="65.6" cy="373.3" r="1.95" fill="none" stroke="#a9a9a9" stroke-width="1.35"/>
<line x1="52" y1="350.8" x2="84.7" y2="350.8" stroke="#000" stroke-width="1.5"/>
<line x1="60.3" y1="346.2" x2="76.6" y2="346.2" stroke="#000" stroke-width="1.5"/>
<line x1="60.3" y1="356" x2="76.6" y2="356" stroke="#000" stroke-width="1.5"/>
<line x1="68.5" y1="346.2" x2="68.5" y2="356" stroke="#000" stroke-width="1.5"/>
<circle cx="117.9" cy="317" r="1.9" fill="#ba2626" stroke="#951b1b" stroke-width="0.7"/>
<circle cx="114.7" cy="337.1" r="1.9" fill="#ba2626" stroke="#951b1b" stroke-width="0.7"/>
<circle cx="120.7" cy="338.7" r="1.9" fill="#ba2626" stroke="#951b1b" stroke-width="0.7"/>
<circle cx="108.8" cy="353.6" r="1.9" fill="#ba2626" stroke="#951b1b" stroke-width="0.7"/>
<circle cx="127.1" cy="353.7" r="1.9" fill="#ba2626" stroke="#951b1b" stroke-width="0.7"/>
<circle cx="115" cy="358.4" r="1.9" fill="#ba2626" stroke="#951b1b" stroke-width="0.7"/>
<circle cx="121.5" cy="355.5" r="1.9" fill="#ba2626" stroke="#951b1b" stroke-width="0.7"/>
<circle cx="117.9" cy="367.5" r="1.9" fill="#ba2626" stroke="#951b1b" stroke-width="0.7"/>
<circle cx="112.1" cy="373.8" r="1.9" fill="#ba2626" stroke="#951b1b" stroke-width="0.7"/>
<circle cx="117.9" cy="377.7" r="1.9" fill="#ba2626" stroke="#951b1b" stroke-width="0.7"/>
<circle cx="123.7" cy="377.1" r="1.9" fill="#ba2626" stroke="#951b1b" stroke-width="0.7"/>
<line x1="101.3" y1="355.6" x2="134.2" y2="355.6" stroke="#000" stroke-width="1.5"/>
<line x1="109.8" y1="349.9" x2="126" y2="349.9" stroke="#000" stroke-width="1.5"/>
<line x1="109.8" y1="361.3" x2="126" y2="361.3" stroke="#000" stroke-width="1.5"/>
<line x1="117.9" y1="349.9" x2="117.9" y2="361.3" stroke="#000" stroke-width="1.5"/>
<line x1="231" y1="305.5" x2="231" y2="407.0" stroke="#000" stroke-width="1.5"/>
<line x1="228" y1="305.5" x2="231" y2="305.5" stroke="#000" stroke-width="1.5"/>
<text x="227.4" y="307.6" font-size="7.7" font-weight="bold" text-anchor="end" font-style="normal" fill="#111" stroke="#111" stroke-width="0.3" >15</text>
<line x1="228" y1="339.1" x2="231" y2="339.1" stroke="#000" stroke-width="1.5"/>
<text x="227.4" y="341.20000000000005" font-size="7.7" font-weight="bold" text-anchor="end" font-style="normal" fill="#111" stroke="#111" stroke-width="0.3" >10</text>
<line x1="228" y1="372.7" x2="231" y2="372.7" stroke="#000" stroke-width="1.5"/>
<text x="227.4" y="374.8" font-size="7.7" font-weight="bold" text-anchor="end" font-style="normal" fill="#111" stroke="#111" stroke-width="0.3" >5</text>
<line x1="228" y1="406.3" x2="231" y2="406.3" stroke="#000" stroke-width="1.5"/>
<text x="227.4" y="408.40000000000003" font-size="7.7" font-weight="bold" text-anchor="end" font-style="normal" fill="#111" stroke="#111" stroke-width="0.3" >0</text>
<line x1="230.3" y1="406.3" x2="332.5" y2="406.3" stroke="#000" stroke-width="1.5"/>
<line x1="256.5" y1="406.3" x2="256.5" y2="408.90000000000003" stroke="#000" stroke-width="1.5"/>
<line x1="305.5" y1="406.3" x2="305.5" y2="408.90000000000003" stroke="#000" stroke-width="1.5"/>
<text x="200.3" y="355" font-size="10.5" text-anchor="middle" fill="#111" stroke="#111" stroke-width="0.42" transform="rotate(-90 200.3 355)" textLength="59.5" lengthAdjust="spacingAndGlyphs" >Liver Weight</text>
<text x="214.2" y="356.5" font-size="10.5" text-anchor="middle" fill="#111" stroke="#111" stroke-width="0.42" transform="rotate(-90 214.2 356.5)" textLength="88.8" lengthAdjust="spacingAndGlyphs" >(% of body weight)</text>
<text x="234.04" y="419.8" font-size="10.8" fill="#111" stroke="#111" stroke-width="0.42">Hif-1</text>
<text transform="translate(257.28 421.00) scale(1.339 1)" x="-0.45" y="0" font-size="11.16" font-family="Liberation Serif, serif" fill="#111" stroke="#111" stroke-width="0.15">&#945;</text>
<text x="264.88" y="414.90" font-size="7.0" font-weight="bold" fill="#111" stroke="#111" stroke-width="0.29">fl/fl</text>
<text x="283.64" y="419.8" font-size="10.8" fill="#111" stroke="#111" stroke-width="0.42">Hif-1</text>
<text transform="translate(306.88 421.00) scale(1.339 1)" x="-0.45" y="0" font-size="11.16" font-family="Liberation Serif, serif" fill="#111" stroke="#111" stroke-width="0.15">&#945;</text>
<text x="314.36" y="415.50" font-size="7.6" font-weight="normal" fill="#111" stroke="#111" stroke-width="0.29">&#916;/&#916;</text>
<path d="M256.7,309.4 V304.6 H305.4 V309.4" stroke="#000" stroke-width="1.4" fill="none" />
<text x="260.6" y="302.3" font-size="9.5" fill="#111" stroke="#111" stroke-width="0.42" textLength="43.2" lengthAdjust="spacingAndGlyphs"><tspan font-style="italic">P</tspan>=0.3376</text>
<circle cx="253.3" cy="329.6" r="1.95" fill="none" stroke="#a9a9a9" stroke-width="1.35"/>
<circle cx="259.3" cy="329.2" r="1.95" fill="none" stroke="#a9a9a9" stroke-width="1.35"/>
<circle cx="250.2" cy="335.2" r="1.95" fill="none" stroke="#a9a9a9" stroke-width="1.35"/>
<circle cx="256.4" cy="337.4" r="1.95" fill="none" stroke="#a9a9a9" stroke-width="1.35"/>
<circle cx="262.5" cy="335" r="1.95" fill="none" stroke="#a9a9a9" stroke-width="1.35"/>
<circle cx="250.4" cy="341.7" r="1.95" fill="none" stroke="#a9a9a9" stroke-width="1.35"/>
<circle cx="262" cy="341.7" r="1.95" fill="none" stroke="#a9a9a9" stroke-width="1.35"/>
<circle cx="256.4" cy="348.7" r="1.95" fill="none" stroke="#a9a9a9" stroke-width="1.35"/>
<circle cx="253.3" cy="353.8" r="1.95" fill="none" stroke="#a9a9a9" stroke-width="1.35"/>
<circle cx="259.3" cy="356.6" r="1.95" fill="none" stroke="#a9a9a9" stroke-width="1.35"/>
<circle cx="256.4" cy="369.7" r="1.95" fill="none" stroke="#a9a9a9" stroke-width="1.35"/>
<line x1="240.3" y1="343.9" x2="272.8" y2="343.9" stroke="#000" stroke-width="1.5"/>
<line x1="248.5" y1="340.1" x2="263.9" y2="340.1" stroke="#000" stroke-width="1.5"/>
<line x1="248.5" y1="347.5" x2="263.9" y2="347.5" stroke="#000" stroke-width="1.5"/>
<line x1="256.4" y1="340.1" x2="256.4" y2="347.5" stroke="#000" stroke-width="1.5"/>
<circle cx="305.8" cy="327.2" r="1.9" fill="#ba2626" stroke="#951b1b" stroke-width="0.7"/>
<circle cx="302.5" cy="336.7" r="1.9" fill="#ba2626" stroke="#951b1b" stroke-width="0.7"/>
<circle cx="308.7" cy="336.7" r="1.9" fill="#ba2626" stroke="#951b1b" stroke-width="0.7"/>
<circle cx="308.7" cy="343.5" r="1.9" fill="#ba2626" stroke="#951b1b" stroke-width="0.7"/>
<circle cx="302.5" cy="348.8" r="1.9" fill="#ba2626" stroke="#951b1b" stroke-width="0.7"/>
<circle cx="311.8" cy="351.1" r="1.9" fill="#ba2626" stroke="#951b1b" stroke-width="0.7"/>
<circle cx="299.5" cy="352.9" r="1.9" fill="#ba2626" stroke="#951b1b" stroke-width="0.7"/>
<circle cx="305.8" cy="355.5" r="1.9" fill="#ba2626" stroke="#951b1b" stroke-width="0.7"/>
<circle cx="299.9" cy="359.6" r="1.9" fill="#ba2626" stroke="#951b1b" stroke-width="0.7"/>
<circle cx="305.8" cy="362.8" r="1.9" fill="#ba2626" stroke="#951b1b" stroke-width="0.7"/>
<circle cx="311.8" cy="362.1" r="1.9" fill="#ba2626" stroke="#951b1b" stroke-width="0.7"/>
<line x1="288.9" y1="348.8" x2="322.3" y2="348.8" stroke="#000" stroke-width="1.5"/>
<line x1="297.3" y1="345.4" x2="313.8" y2="345.4" stroke="#000" stroke-width="1.5"/>
<line x1="297.3" y1="352.3" x2="313.8" y2="352.3" stroke="#000" stroke-width="1.5"/>
<line x1="305.8" y1="345.4" x2="305.8" y2="352.3" stroke="#000" stroke-width="1.5"/>
<text x="360.34" y="304.6" font-size="13.2" font-weight="bold" text-anchor="start" font-style="normal" fill="#111" stroke="#111" stroke-width="0.2" >H</text>
<text x="368.67" y="332.2" font-size="12.9" fill="#111" stroke="#111" stroke-width="0.42">Hif-1</text>
<text transform="translate(396.04 332.20) scale(1.476 1)" x="-0.49" y="0" font-size="12.21" font-family="Liberation Serif, serif" fill="#111" stroke="#111" stroke-width="0.15">&#945;</text>
<text x="404.75" y="327.60" font-size="6.4" font-weight="bold" fill="#111" stroke="#111" stroke-width="0.29">fl/fl</text>
<text x="424.27" y="332.2" font-size="12.9" fill="#111" stroke="#111" stroke-width="0.42">Hif-1</text>
<text transform="translate(451.24 332.20) scale(1.332 1)" x="-0.49" y="0" font-size="12.21" font-family="Liberation Serif, serif" fill="#111" stroke="#111" stroke-width="0.15">&#945;</text>
<text x="459.04" y="327.80" font-size="6.6" font-weight="normal" fill="#111" stroke="#111" stroke-width="0.29">&#916;/&#916;</text>
<defs>
<linearGradient id="bg" x1="0" y1="0" x2="0" y2="1"><stop offset="0" stop-color="#dcd7cc"/><stop offset="0.5" stop-color="#e3ded3"/><stop offset="1" stop-color="#eae6de"/></linearGradient>
<linearGradient id="lv1" x1="0" y1="0" x2="1" y2="1"><stop offset="0" stop-color="#9e5236"/><stop offset="0.4" stop-color="#93442c"/><stop offset="0.75" stop-color="#873a26"/><stop offset="1" stop-color="#7a3022"/></linearGradient>
<radialGradient id="lv1b" cx="0.25" cy="0.4" r="0.35"><stop offset="0" stop-color="#b86e48" stop-opacity="0.6"/><stop offset="1" stop-color="#c0784a" stop-opacity="0"/></radialGradient>
<radialGradient id="lv1c" cx="0.5" cy="0.12" r="0.3"><stop offset="0" stop-color="#b8804a" stop-opacity="0.5"/><stop offset="1" stop-color="#c89a5a" stop-opacity="0"/></radialGradient>
<linearGradient id="lv2" x1="0" y1="0" x2="0.6" y2="1"><stop offset="0" stop-color="#b87a42"/><stop offset="0.5" stop-color="#a86434"/><stop offset="1" stop-color="#94522c"/></linearGradient>
<filter id="soft" x="-10%" y="-10%" width="120%" height="120%"><feGaussianBlur stdDeviation="0.6"/></filter>
<filter id="halo" x="-20%" y="-20%" width="140%" height="140%"><feGaussianBlur stdDeviation="1.2"/></filter>
</defs>
<rect x="361.5" y="335.4" width="158.5" height="70.2" fill="url(#bg)"/>
<path d="M395.7,347.3 C396.8,347.1 398.6,346.2 400.0,346.4 C401.4,346.5 403.2,347.3 404.3,348.2 C405.4,349.1 406.4,350.6 406.9,351.6 C407.4,352.7 407.1,353.2 407.5,354.5 C407.9,355.8 408.7,357.4 409.5,359.4 C410.3,361.4 411.4,363.7 412.1,366.3 C412.8,368.9 413.7,372.1 413.8,375.0 C413.9,377.9 413.6,381.0 413.0,383.7 C412.4,386.4 411.6,389.2 410.4,391.4 C409.2,393.5 407.4,395.6 406.0,396.6 C404.6,397.6 403.3,397.5 401.7,397.5 C400.1,397.5 398.2,397.2 396.5,396.6 C394.8,396.0 393.0,395.1 391.3,394.0 C389.6,392.9 387.9,391.1 386.2,389.7 C384.5,388.3 382.4,386.8 381.0,385.4 C379.6,384.0 378.7,382.2 377.5,381.1 C376.3,380.0 375.3,379.5 374.0,378.5 C372.7,377.5 370.8,376.4 369.7,375.0 C368.6,373.6 367.9,371.5 367.5,369.8 C367.1,368.1 366.9,366.2 367.1,364.6 C367.3,363.0 367.9,361.5 368.8,360.3 C369.7,359.1 370.9,358.4 372.3,357.7 C373.8,357.0 376.2,356.9 377.5,356.0 C378.8,355.1 379.1,353.5 380.1,352.5 C381.1,351.5 382.2,350.6 383.6,349.9 C385.1,349.2 387.2,348.6 388.8,348.2 C390.4,347.8 392.0,347.4 393.1,347.3 C394.2,347.2 394.6,347.5 395.7,347.3 Z" fill="#e9c9b0" filter="url(#halo)" transform="translate(0 0)"/>
<path d="M431.2,357.7 C432.4,356.4 433.9,354.2 435.8,353.1 C437.7,352.0 440.4,351.4 442.7,350.8 C445.0,350.2 447.3,350.1 449.6,349.6 C451.9,349.1 454.6,348.0 456.5,348.0 C458.4,348.0 460.0,348.8 461.2,349.6 C462.4,350.5 463.2,352.0 463.5,353.1 C463.8,354.2 463.6,355.4 463.0,356.5 C462.4,357.6 460.4,358.7 460.2,360.0 C460.0,361.3 461.1,363.1 461.6,364.3 C462.2,365.6 463.4,365.9 463.5,367.5 C463.6,369.1 462.9,371.6 462.3,373.8 C461.7,376.0 461.0,378.5 460.0,380.8 C459.0,383.1 457.9,385.6 456.5,387.7 C455.1,389.8 453.4,392.1 451.9,393.5 C450.4,394.9 448.8,395.6 447.3,395.8 C445.8,396.0 444.2,395.4 442.7,394.6 C441.2,393.8 439.5,392.7 438.1,391.2 C436.8,389.7 435.6,387.5 434.6,385.4 C433.6,383.3 433.1,380.6 432.3,378.5 C431.5,376.4 430.6,374.6 430.0,372.7 C429.4,370.8 428.6,368.8 428.4,366.9 C428.2,365.0 428.3,362.7 428.8,361.2 C429.3,359.7 430.0,359.0 431.2,357.7 Z" fill="#ecd2b4" filter="url(#halo)"/>
<g filter="url(#soft)"><path d="M395.7,347.3 C396.8,347.1 398.6,346.2 400.0,346.4 C401.4,346.5 403.2,347.3 404.3,348.2 C405.4,349.1 406.4,350.6 406.9,351.6 C407.4,352.7 407.1,353.2 407.5,354.5 C407.9,355.8 408.7,357.4 409.5,359.4 C410.3,361.4 411.4,363.7 412.1,366.3 C412.8,368.9 413.7,372.1 413.8,375.0 C413.9,377.9 413.6,381.0 413.0,383.7 C412.4,386.4 411.6,389.2 410.4,391.4 C409.2,393.5 407.4,395.6 406.0,396.6 C404.6,397.6 403.3,397.5 401.7,397.5 C400.1,397.5 398.2,397.2 396.5,396.6 C394.8,396.0 393.0,395.1 391.3,394.0 C389.6,392.9 387.9,391.1 386.2,389.7 C384.5,388.3 382.4,386.8 381.0,385.4 C379.6,384.0 378.7,382.2 377.5,381.1 C376.3,380.0 375.3,379.5 374.0,378.5 C372.7,377.5 370.8,376.4 369.7,375.0 C368.6,373.6 367.9,371.5 367.5,369.8 C367.1,368.1 366.9,366.2 367.1,364.6 C367.3,363.0 367.9,361.5 368.8,360.3 C369.7,359.1 370.9,358.4 372.3,357.7 C373.8,357.0 376.2,356.9 377.5,356.0 C378.8,355.1 379.1,353.5 380.1,352.5 C381.1,351.5 382.2,350.6 383.6,349.9 C385.1,349.2 387.2,348.6 388.8,348.2 C390.4,347.8 392.0,347.4 393.1,347.3 C394.2,347.2 394.6,347.5 395.7,347.3 Z" fill="url(#lv1)"/><path d="M395.7,347.3 C396.8,347.1 398.6,346.2 400.0,346.4 C401.4,346.5 403.2,347.3 404.3,348.2 C405.4,349.1 406.4,350.6 406.9,351.6 C407.4,352.7 407.1,353.2 407.5,354.5 C407.9,355.8 408.7,357.4 409.5,359.4 C410.3,361.4 411.4,363.7 412.1,366.3 C412.8,368.9 413.7,372.1 413.8,375.0 C413.9,377.9 413.6,381.0 413.0,383.7 C412.4,386.4 411.6,389.2 410.4,391.4 C409.2,393.5 407.4,395.6 406.0,396.6 C404.6,397.6 403.3,397.5 401.7,397.5 C400.1,397.5 398.2,397.2 396.5,396.6 C394.8,396.0 393.0,395.1 391.3,394.0 C389.6,392.9 387.9,391.1 386.2,389.7 C384.5,388.3 382.4,386.8 381.0,385.4 C379.6,384.0 378.7,382.2 377.5,381.1 C376.3,380.0 375.3,379.5 374.0,378.5 C372.7,377.5 370.8,376.4 369.7,375.0 C368.6,373.6 367.9,371.5 367.5,369.8 C367.1,368.1 366.9,366.2 367.1,364.6 C367.3,363.0 367.9,361.5 368.8,360.3 C369.7,359.1 370.9,358.4 372.3,357.7 C373.8,357.0 376.2,356.9 377.5,356.0 C378.8,355.1 379.1,353.5 380.1,352.5 C381.1,351.5 382.2,350.6 383.6,349.9 C385.1,349.2 387.2,348.6 388.8,348.2 C390.4,347.8 392.0,347.4 393.1,347.3 C394.2,347.2 394.6,347.5 395.7,347.3 Z" fill="url(#lv1b)"/><path d="M395.7,347.3 C396.8,347.1 398.6,346.2 400.0,346.4 C401.4,346.5 403.2,347.3 404.3,348.2 C405.4,349.1 406.4,350.6 406.9,351.6 C407.4,352.7 407.1,353.2 407.5,354.5 C407.9,355.8 408.7,357.4 409.5,359.4 C410.3,361.4 411.4,363.7 412.1,366.3 C412.8,368.9 413.7,372.1 413.8,375.0 C413.9,377.9 413.6,381.0 413.0,383.7 C412.4,386.4 411.6,389.2 410.4,391.4 C409.2,393.5 407.4,395.6 406.0,396.6 C404.6,397.6 403.3,397.5 401.7,397.5 C400.1,397.5 398.2,397.2 396.5,396.6 C394.8,396.0 393.0,395.1 391.3,394.0 C389.6,392.9 387.9,391.1 386.2,389.7 C384.5,388.3 382.4,386.8 381.0,385.4 C379.6,384.0 378.7,382.2 377.5,381.1 C376.3,380.0 375.3,379.5 374.0,378.5 C372.7,377.5 370.8,376.4 369.7,375.0 C368.6,373.6 367.9,371.5 367.5,369.8 C367.1,368.1 366.9,366.2 367.1,364.6 C367.3,363.0 367.9,361.5 368.8,360.3 C369.7,359.1 370.9,358.4 372.3,357.7 C373.8,357.0 376.2,356.9 377.5,356.0 C378.8,355.1 379.1,353.5 380.1,352.5 C381.1,351.5 382.2,350.6 383.6,349.9 C385.1,349.2 387.2,348.6 388.8,348.2 C390.4,347.8 392.0,347.4 393.1,347.3 C394.2,347.2 394.6,347.5 395.7,347.3 Z" fill="url(#lv1c)"/>
<path d="M431.2,357.7 C432.4,356.4 433.9,354.2 435.8,353.1 C437.7,352.0 440.4,351.4 442.7,350.8 C445.0,350.2 447.3,350.1 449.6,349.6 C451.9,349.1 454.6,348.0 456.5,348.0 C458.4,348.0 460.0,348.8 461.2,349.6 C462.4,350.5 463.2,352.0 463.5,353.1 C463.8,354.2 463.6,355.4 463.0,356.5 C462.4,357.6 460.4,358.7 460.2,360.0 C460.0,361.3 461.1,363.1 461.6,364.3 C462.2,365.6 463.4,365.9 463.5,367.5 C463.6,369.1 462.9,371.6 462.3,373.8 C461.7,376.0 461.0,378.5 460.0,380.8 C459.0,383.1 457.9,385.6 456.5,387.7 C455.1,389.8 453.4,392.1 451.9,393.5 C450.4,394.9 448.8,395.6 447.3,395.8 C445.8,396.0 444.2,395.4 442.7,394.6 C441.2,393.8 439.5,392.7 438.1,391.2 C436.8,389.7 435.6,387.5 434.6,385.4 C433.6,383.3 433.1,380.6 432.3,378.5 C431.5,376.4 430.6,374.6 430.0,372.7 C429.4,370.8 428.6,368.8 428.4,366.9 C428.2,365.0 428.3,362.7 428.8,361.2 C429.3,359.7 430.0,359.0 431.2,357.7 Z" fill="url(#lv2)"/>
</g>
<clipPath id="c1"><path d="M395.7,347.3 C396.8,347.1 398.6,346.2 400.0,346.4 C401.4,346.5 403.2,347.3 404.3,348.2 C405.4,349.1 406.4,350.6 406.9,351.6 C407.4,352.7 407.1,353.2 407.5,354.5 C407.9,355.8 408.7,357.4 409.5,359.4 C410.3,361.4 411.4,363.7 412.1,366.3 C412.8,368.9 413.7,372.1 413.8,375.0 C413.9,377.9 413.6,381.0 413.0,383.7 C412.4,386.4 411.6,389.2 410.4,391.4 C409.2,393.5 407.4,395.6 406.0,396.6 C404.6,397.6 403.3,397.5 401.7,397.5 C400.1,397.5 398.2,397.2 396.5,396.6 C394.8,396.0 393.0,395.1 391.3,394.0 C389.6,392.9 387.9,391.1 386.2,389.7 C384.5,388.3 382.4,386.8 381.0,385.4 C379.6,384.0 378.7,382.2 377.5,381.1 C376.3,380.0 375.3,379.5 374.0,378.5 C372.7,377.5 370.8,376.4 369.7,375.0 C368.6,373.6 367.9,371.5 367.5,369.8 C367.1,368.1 366.9,366.2 367.1,364.6 C367.3,363.0 367.9,361.5 368.8,360.3 C369.7,359.1 370.9,358.4 372.3,357.7 C373.8,357.0 376.2,356.9 377.5,356.0 C378.8,355.1 379.1,353.5 380.1,352.5 C381.1,351.5 382.2,350.6 383.6,349.9 C385.1,349.2 387.2,348.6 388.8,348.2 C390.4,347.8 392.0,347.4 393.1,347.3 C394.2,347.2 394.6,347.5 395.7,347.3 Z"/></clipPath><clipPath id="c2"><path d="M431.2,357.7 C432.4,356.4 433.9,354.2 435.8,353.1 C437.7,352.0 440.4,351.4 442.7,350.8 C445.0,350.2 447.3,350.1 449.6,349.6 C451.9,349.1 454.6,348.0 456.5,348.0 C458.4,348.0 460.0,348.8 461.2,349.6 C462.4,350.5 463.2,352.0 463.5,353.1 C463.8,354.2 463.6,355.4 463.0,356.5 C462.4,357.6 460.4,358.7 460.2,360.0 C460.0,361.3 461.1,363.1 461.6,364.3 C462.2,365.6 463.4,365.9 463.5,367.5 C463.6,369.1 462.9,371.6 462.3,373.8 C461.7,376.0 461.0,378.5 460.0,380.8 C459.0,383.1 457.9,385.6 456.5,387.7 C455.1,389.8 453.4,392.1 451.9,393.5 C450.4,394.9 448.8,395.6 447.3,395.8 C445.8,396.0 444.2,395.4 442.7,394.6 C441.2,393.8 439.5,392.7 438.1,391.2 C436.8,389.7 435.6,387.5 434.6,385.4 C433.6,383.3 433.1,380.6 432.3,378.5 C431.5,376.4 430.6,374.6 430.0,372.7 C429.4,370.8 428.6,368.8 428.4,366.9 C428.2,365.0 428.3,362.7 428.8,361.2 C429.3,359.7 430.0,359.0 431.2,357.7 Z"/></clipPath>
<filter id="blob" x="-50%" y="-50%" width="200%" height="200%"><feGaussianBlur stdDeviation="2.2"/></filter>
<g clip-path="url(#c1)"><g filter="url(#blob)">
<ellipse cx="401" cy="382" rx="7" ry="7" fill="#6a2818" opacity="0.45"/>
<ellipse cx="372" cy="368" rx="4" ry="7" fill="#c08058" opacity="0.35"/>
<ellipse cx="394" cy="350" rx="8" ry="3" fill="#c09058" opacity="0.35"/>
<ellipse cx="408" cy="368" rx="3" ry="8" fill="#7a2c1c" opacity="0.35"/>
<path d="M380,354 C378,362 377,370 379,380" stroke="#6a2818" stroke-width="1.5" fill="none" opacity="0.5"/>
</g></g>
<g clip-path="url(#c2)"><g filter="url(#blob)">
<ellipse cx="451" cy="387" rx="7" ry="6" fill="#7a3a1c" opacity="0.4"/>
<ellipse cx="441" cy="360" rx="8" ry="6" fill="#d8a468" opacity="0.35"/>
<ellipse cx="458" cy="354" rx="5" ry="4" fill="#c89058" opacity="0.4"/>
</g></g>
<g>
<ellipse cx="383.5" cy="366.5" rx="1.6" ry="1" fill="#f0d8c8" opacity="0.9"/>
<ellipse cx="389" cy="356" rx="1.2" ry="0.9" fill="#e8c8a8" opacity="0.8"/>
<ellipse cx="442" cy="361" rx="1.2" ry="1.8" fill="#f0d0b0" opacity="0.8"/>
<ellipse cx="446" cy="356" rx="1" ry="0.8" fill="#e8c8a0" opacity="0.7"/>
</g>
<line x1="489.2" y1="396.2" x2="508.7" y2="396.2" stroke="#8e8c86" stroke-width="0.55"/>
<line x1="489.2" y1="394.15" x2="500.2" y2="394.15" stroke="#8e8c86" stroke-width="0.55"/>
<line x1="489.2" y1="392.1" x2="500.2" y2="392.1" stroke="#8e8c86" stroke-width="0.55"/>
<line x1="489.2" y1="390.05" x2="500.2" y2="390.05" stroke="#8e8c86" stroke-width="0.55"/>
<line x1="489.2" y1="388.0" x2="500.2" y2="388.0" stroke="#8e8c86" stroke-width="0.55"/>
<line x1="489.2" y1="385.95" x2="503.2" y2="385.95" stroke="#8e8c86" stroke-width="0.55"/>
<line x1="489.2" y1="383.9" x2="500.2" y2="383.9" stroke="#8e8c86" stroke-width="0.55"/>
<line x1="489.2" y1="381.85" x2="500.2" y2="381.85" stroke="#8e8c86" stroke-width="0.55"/>
<line x1="489.2" y1="379.8" x2="500.2" y2="379.8" stroke="#8e8c86" stroke-width="0.55"/>
<line x1="489.2" y1="377.75" x2="500.2" y2="377.75" stroke="#8e8c86" stroke-width="0.55"/>
<line x1="489.2" y1="375.7" x2="508.7" y2="375.7" stroke="#8e8c86" stroke-width="0.55"/>
<line x1="489.2" y1="373.65" x2="500.2" y2="373.65" stroke="#8e8c86" stroke-width="0.55"/>
<line x1="489.2" y1="371.6" x2="500.2" y2="371.6" stroke="#8e8c86" stroke-width="0.55"/>
<line x1="489.2" y1="369.55" x2="500.2" y2="369.55" stroke="#8e8c86" stroke-width="0.55"/>
<line x1="489.2" y1="367.5" x2="500.2" y2="367.5" stroke="#8e8c86" stroke-width="0.55"/>
<line x1="489.2" y1="365.45" x2="503.2" y2="365.45" stroke="#8e8c86" stroke-width="0.55"/>
<line x1="489.2" y1="363.4" x2="500.2" y2="363.4" stroke="#8e8c86" stroke-width="0.55"/>
<line x1="489.2" y1="361.35" x2="500.2" y2="361.35" stroke="#8e8c86" stroke-width="0.55"/>
<line x1="489.2" y1="359.3" x2="500.2" y2="359.3" stroke="#8e8c86" stroke-width="0.55"/>
<line x1="489.2" y1="357.25" x2="500.2" y2="357.25" stroke="#8e8c86" stroke-width="0.55"/>
<line x1="489.2" y1="355.2" x2="508.7" y2="355.2" stroke="#8e8c86" stroke-width="0.55"/>
<line x1="489.2" y1="353.15" x2="500.2" y2="353.15" stroke="#8e8c86" stroke-width="0.55"/>
<line x1="489.2" y1="351.1" x2="500.2" y2="351.1" stroke="#8e8c86" stroke-width="0.55"/>
<line x1="489.2" y1="349.05" x2="500.2" y2="349.05" stroke="#8e8c86" stroke-width="0.55"/>
<line x1="489.2" y1="347.0" x2="500.2" y2="347.0" stroke="#8e8c86" stroke-width="0.55"/>
<line x1="489.2" y1="344.95" x2="503.2" y2="344.95" stroke="#8e8c86" stroke-width="0.55"/>
<line x1="489.2" y1="342.9" x2="500.2" y2="342.9" stroke="#8e8c86" stroke-width="0.55"/>
<line x1="489.2" y1="340.85" x2="500.2" y2="340.85" stroke="#8e8c86" stroke-width="0.55"/>
<line x1="489.2" y1="338.8" x2="500.2" y2="338.8" stroke="#8e8c86" stroke-width="0.55"/>
<line x1="489.2" y1="336.75" x2="500.2" y2="336.75" stroke="#8e8c86" stroke-width="0.55"/>
<text x="514.0" y="396.2" font-size="7" text-anchor="middle" fill="#2a2a2a" stroke="#2a2a2a" stroke-width="0.2" transform="rotate(-90 514.0 396.2)">0</text>
<text x="514.0" y="355.1" font-size="7" text-anchor="middle" fill="#2a2a2a" stroke="#2a2a2a" stroke-width="0.2" transform="rotate(-90 514.0 355.1)">2</text>
<text x="514.0" y="377.8" font-size="6.6" text-anchor="start" fill="#2a2a2a" stroke="#2a2a2a" stroke-width="0.2" transform="rotate(-90 514.0 377.8)">1cm</text>
<text x="0.27" y="447.6" font-size="13.2" font-weight="bold" text-anchor="start" font-style="normal" fill="#111" stroke="#111" stroke-width="0.2" >G</text>
<line x1="43.6" y1="455.0" x2="43.6" y2="556.2" stroke="#000" stroke-width="1.5"/>
<line x1="40.6" y1="455.0" x2="43.6" y2="455.0" stroke="#000" stroke-width="1.5"/>
<text x="40.0" y="457.1" font-size="7.7" font-weight="bold" text-anchor="end" font-style="normal" fill="#111" stroke="#111" stroke-width="0.3" >100</text>
<line x1="40.6" y1="488.5" x2="43.6" y2="488.5" stroke="#000" stroke-width="1.5"/>
<text x="40.0" y="490.6" font-size="7.7" font-weight="bold" text-anchor="end" font-style="normal" fill="#111" stroke="#111" stroke-width="0.3" >80</text>
<line x1="40.6" y1="522.0" x2="43.6" y2="522.0" stroke="#000" stroke-width="1.5"/>
<text x="40.0" y="524.1" font-size="7.7" font-weight="bold" text-anchor="end" font-style="normal" fill="#111" stroke="#111" stroke-width="0.3" >60</text>
<line x1="40.6" y1="555.5" x2="43.6" y2="555.5" stroke="#000" stroke-width="1.5"/>
<text x="40.0" y="557.6" font-size="7.7" font-weight="bold" text-anchor="end" font-style="normal" fill="#111" stroke="#111" stroke-width="0.3" >40</text>
<line x1="42.9" y1="555.5" x2="195" y2="555.5" stroke="#000" stroke-width="1.5"/>
<line x1="119.2" y1="454.8" x2="119.2" y2="555" stroke="#8c8c8c" stroke-width="0.8" stroke-dasharray="2,0.8"/>
<text x="79" y="567.5" font-size="10.5" font-weight="normal" text-anchor="middle" font-style="normal" fill="#111" stroke="#111" stroke-width="0.42" >BM</text>
<text x="154.4" y="567.6" font-size="10.5" font-weight="normal" text-anchor="middle" font-style="normal" fill="#111" stroke="#111" stroke-width="0.42" >Spleen</text>
<text x="23.4" y="504.4" font-size="11.3" text-anchor="middle" fill="#111" stroke="#111" stroke-width="0.42" transform="rotate(-90 23.4 504.4)" textLength="71.5" lengthAdjust="spacingAndGlyphs" >GFP<tspan dy="-4" font-size="7.5">+</tspan><tspan dy="4"> cells (%)</tspan></text>
<circle cx="52.5" cy="455.4" r="1.95" fill="none" stroke="#bdbdbd" stroke-width="1.35"/>
<circle cx="56.5" cy="455.6" r="1.95" fill="none" stroke="#bdbdbd" stroke-width="1.35"/>
<circle cx="69.5" cy="455.6" r="1.95" fill="none" stroke="#bdbdbd" stroke-width="1.35"/>
<circle cx="73.3" cy="455.4" r="1.95" fill="none" stroke="#bdbdbd" stroke-width="1.35"/>
<circle cx="62.7" cy="460.4" r="1.95" fill="none" stroke="#bdbdbd" stroke-width="1.35"/>
<circle cx="60" cy="457" r="1.95" fill="none" stroke="#bdbdbd" stroke-width="1.35"/>
<circle cx="65.5" cy="457" r="1.95" fill="none" stroke="#bdbdbd" stroke-width="1.35"/>
<line x1="50.4" y1="457.1" x2="75" y2="457.1" stroke="#000" stroke-width="1.7"/>
<line x1="58" y1="456.3" x2="67.5" y2="456.3" stroke="#000" stroke-width="1.2"/>
<line x1="58" y1="458.0" x2="67.5" y2="458.0" stroke="#000" stroke-width="1.2"/>
<circle cx="90" cy="456.3" r="1.9" fill="#ba2626" stroke="#951b1b" stroke-width="0.7"/>
<circle cx="92.5" cy="456.5" r="1.9" fill="#ba2626" stroke="#951b1b" stroke-width="0.7"/>
<circle cx="95" cy="456.7" r="1.9" fill="#ba2626" stroke="#951b1b" stroke-width="0.7"/>
<circle cx="97.5" cy="457" r="1.9" fill="#ba2626" stroke="#951b1b" stroke-width="0.7"/>
<circle cx="100" cy="457.4" r="1.9" fill="#ba2626" stroke="#951b1b" stroke-width="0.7"/>
<circle cx="102.5" cy="457.2" r="1.9" fill="#ba2626" stroke="#951b1b" stroke-width="0.7"/>
<circle cx="105" cy="456.8" r="1.9" fill="#ba2626" stroke="#951b1b" stroke-width="0.7"/>
<circle cx="107.5" cy="456.5" r="1.9" fill="#ba2626" stroke="#951b1b" stroke-width="0.7"/>
<circle cx="110.5" cy="456.2" r="1.9" fill="#ba2626" stroke="#951b1b" stroke-width="0.7"/>
<circle cx="96.5" cy="458.2" r="1.9" fill="#ba2626" stroke="#951b1b" stroke-width="0.7"/>
<circle cx="100" cy="459.3" r="1.9" fill="#ba2626" stroke="#951b1b" stroke-width="0.7"/>
<circle cx="103.5" cy="458.4" r="1.9" fill="#ba2626" stroke="#951b1b" stroke-width="0.7"/>
<line x1="88" y1="457.0" x2="112.7" y2="457.0" stroke="#000" stroke-width="1.6"/>
<circle cx="134.6" cy="482.6" r="1.95" fill="none" stroke="#a9a9a9" stroke-width="1.35"/>
<circle cx="140.8" cy="481.1" r="1.95" fill="none" stroke="#a9a9a9" stroke-width="1.35"/>
<circle cx="134.6" cy="492.6" r="1.95" fill="none" stroke="#a9a9a9" stroke-width="1.35"/>
<circle cx="140.8" cy="495.7" r="1.95" fill="none" stroke="#a9a9a9" stroke-width="1.35"/>
<circle cx="131.1" cy="498.9" r="1.95" fill="none" stroke="#a9a9a9" stroke-width="1.35"/>
<circle cx="143.8" cy="502.3" r="1.95" fill="none" stroke="#a9a9a9" stroke-width="1.35"/>
<circle cx="134.6" cy="513.8" r="1.95" fill="none" stroke="#a9a9a9" stroke-width="1.35"/>
<circle cx="143.8" cy="518.9" r="1.95" fill="none" stroke="#a9a9a9" stroke-width="1.35"/>
<circle cx="140.8" cy="523.5" r="1.95" fill="none" stroke="#a9a9a9" stroke-width="1.35"/>
<circle cx="134.6" cy="528.2" r="1.95" fill="none" stroke="#a9a9a9" stroke-width="1.35"/>
<line x1="125.4" y1="504.2" x2="150.5" y2="504.2" stroke="#000" stroke-width="1.5"/>
<line x1="132.3" y1="499.2" x2="143.8" y2="499.2" stroke="#000" stroke-width="1.5"/>
<line x1="132.3" y1="508.5" x2="143.8" y2="508.5" stroke="#000" stroke-width="1.5"/>
<line x1="137.7" y1="499.2" x2="137.7" y2="508.5" stroke="#000" stroke-width="1.5"/>
<circle cx="175.4" cy="483.1" r="1.9" fill="#ba2626" stroke="#951b1b" stroke-width="0.7"/>
<circle cx="169.2" cy="489.2" r="1.9" fill="#ba2626" stroke="#951b1b" stroke-width="0.7"/>
<circle cx="181.5" cy="489.2" r="1.9" fill="#ba2626" stroke="#951b1b" stroke-width="0.7"/>
<circle cx="175.4" cy="493.5" r="1.9" fill="#ba2626" stroke="#951b1b" stroke-width="0.7"/>
<circle cx="172.3" cy="503.1" r="1.9" fill="#ba2626" stroke="#951b1b" stroke-width="0.7"/>
<circle cx="177.7" cy="503.1" r="1.9" fill="#ba2626" stroke="#951b1b" stroke-width="0.7"/>
<circle cx="175.4" cy="511.8" r="1.9" fill="#ba2626" stroke="#951b1b" stroke-width="0.7"/>
<circle cx="169.2" cy="519.5" r="1.9" fill="#ba2626" stroke="#951b1b" stroke-width="0.7"/>
<circle cx="175.4" cy="520.5" r="1.9" fill="#ba2626" stroke="#951b1b" stroke-width="0.7"/>
<circle cx="181.5" cy="517.4" r="1.9" fill="#ba2626" stroke="#951b1b" stroke-width="0.7"/>
<circle cx="175.4" cy="529.2" r="1.9" fill="#ba2626" stroke="#951b1b" stroke-width="0.7"/>
<line x1="163.1" y1="505.7" x2="187.7" y2="505.7" stroke="#000" stroke-width="1.5"/>
<line x1="169.5" y1="500.8" x2="181.5" y2="500.8" stroke="#000" stroke-width="1.5"/>
<line x1="169.5" y1="510.3" x2="181.5" y2="510.3" stroke="#000" stroke-width="1.5"/>
<line x1="175.4" y1="500.8" x2="175.4" y2="510.3" stroke="#000" stroke-width="1.5"/>
<line x1="269.9" y1="455.5" x2="269.9" y2="555.9000000000001" stroke="#000" stroke-width="1.5"/>
<line x1="266.9" y1="455.5" x2="269.9" y2="455.5" stroke="#000" stroke-width="1.5"/>
<text x="266.29999999999995" y="457.6" font-size="7.7" font-weight="bold" text-anchor="end" font-style="normal" fill="#111" stroke="#111" stroke-width="0.3" >100</text>
<line x1="266.9" y1="488.73" x2="269.9" y2="488.73" stroke="#000" stroke-width="1.5"/>
<text x="266.29999999999995" y="490.83000000000004" font-size="7.7" font-weight="bold" text-anchor="end" font-style="normal" fill="#111" stroke="#111" stroke-width="0.3" >80</text>
<line x1="266.9" y1="521.97" x2="269.9" y2="521.97" stroke="#000" stroke-width="1.5"/>
<text x="266.29999999999995" y="524.07" font-size="7.7" font-weight="bold" text-anchor="end" font-style="normal" fill="#111" stroke="#111" stroke-width="0.3" >60</text>
<line x1="266.9" y1="555.2" x2="269.9" y2="555.2" stroke="#000" stroke-width="1.5"/>
<text x="266.29999999999995" y="557.3000000000001" font-size="7.7" font-weight="bold" text-anchor="end" font-style="normal" fill="#111" stroke="#111" stroke-width="0.3" >40</text>
<line x1="269.2" y1="555.1" x2="421.2" y2="555.1" stroke="#000" stroke-width="1.5"/>
<line x1="345.6" y1="453.7" x2="345.6" y2="555" stroke="#999" stroke-width="0.8"/>
<text x="305.6" y="567.6" font-size="10.5" font-weight="normal" text-anchor="middle" font-style="normal" fill="#111" stroke="#111" stroke-width="0.42" >BM</text>
<text x="381" y="567.6" font-size="10.5" font-weight="normal" text-anchor="middle" font-style="normal" fill="#111" stroke="#111" stroke-width="0.42" >Spleen</text>
<text x="250.8" y="503.3" font-size="10.5" text-anchor="middle" fill="#111" stroke="#111" stroke-width="0.42" transform="rotate(-90 250.8 503.3)" textLength="101.5" lengthAdjust="spacingAndGlyphs" >Gr1<tspan dy="-3.5" font-size="7">+</tspan><tspan dy="3.5">/Mac1</tspan><tspan dy="-3.5" font-size="7">+</tspan><tspan dy="3.5"> cells (%)</tspan></text>
<path d="M288.8,450.2 V445.6 H327 V450.2" stroke="#000" stroke-width="1.4" fill="none" />
<text x="305.95" y="446.56" font-size="10.5" font-weight="bold" fill="#111" stroke="#111" stroke-width="0.7" stroke-linejoin="round">*</text>
<circle cx="280.1" cy="455.8" r="1.95" fill="none" stroke="#a9a9a9" stroke-width="1.35"/>
<circle cx="285.9" cy="457.4" r="1.95" fill="none" stroke="#a9a9a9" stroke-width="1.35"/>
<circle cx="292.4" cy="455.8" r="1.95" fill="none" stroke="#a9a9a9" stroke-width="1.35"/>
<circle cx="298.1" cy="455.4" r="1.95" fill="none" stroke="#a9a9a9" stroke-width="1.35"/>
<circle cx="278.7" cy="468.8" r="1.95" fill="none" stroke="#a9a9a9" stroke-width="1.35"/>
<circle cx="283" cy="471" r="1.95" fill="none" stroke="#a9a9a9" stroke-width="1.35"/>
<circle cx="287.3" cy="471.7" r="1.95" fill="none" stroke="#a9a9a9" stroke-width="1.35"/>
<circle cx="291.6" cy="471" r="1.95" fill="none" stroke="#a9a9a9" stroke-width="1.35"/>
<circle cx="295.7" cy="470.2" r="1.95" fill="none" stroke="#a9a9a9" stroke-width="1.35"/>
<circle cx="299.6" cy="467.8" r="1.95" fill="none" stroke="#a9a9a9" stroke-width="1.35"/>
<line x1="276.5" y1="464.5" x2="301.4" y2="464.5" stroke="#000" stroke-width="1.5"/>
<line x1="282.3" y1="462.6" x2="295.7" y2="462.6" stroke="#000" stroke-width="1.5"/>
<line x1="282.3" y1="466.6" x2="295.7" y2="466.6" stroke="#000" stroke-width="1.5"/>
<line x1="288.8" y1="462.6" x2="288.8" y2="466.6" stroke="#000" stroke-width="1.5"/>
<circle cx="316.5" cy="456.3" r="1.9" fill="#ba2626" stroke="#951b1b" stroke-width="0.7"/>
<circle cx="319.5" cy="457" r="1.9" fill="#ba2626" stroke="#951b1b" stroke-width="0.7"/>
<circle cx="322.5" cy="458.2" r="1.9" fill="#ba2626" stroke="#951b1b" stroke-width="0.7"/>
<circle cx="325" cy="459.6" r="1.9" fill="#ba2626" stroke="#951b1b" stroke-width="0.7"/>
<circle cx="327.5" cy="460.6" r="1.9" fill="#ba2626" stroke="#951b1b" stroke-width="0.7"/>
<circle cx="330" cy="459.3" r="1.9" fill="#ba2626" stroke="#951b1b" stroke-width="0.7"/>
<circle cx="332.5" cy="457.6" r="1.9" fill="#ba2626" stroke="#951b1b" stroke-width="0.7"/>
<circle cx="335.5" cy="456.5" r="1.9" fill="#ba2626" stroke="#951b1b" stroke-width="0.7"/>
<circle cx="326.2" cy="461.3" r="1.9" fill="#ba2626" stroke="#951b1b" stroke-width="0.7"/>
<line x1="314" y1="458.6" x2="339.3" y2="458.6" stroke="#000" stroke-width="1.6"/>
<circle cx="361.2" cy="485" r="1.95" fill="none" stroke="#a9a9a9" stroke-width="1.35"/>
<circle cx="367.3" cy="482.4" r="1.95" fill="none" stroke="#a9a9a9" stroke-width="1.35"/>
<circle cx="361.2" cy="495.5" r="1.95" fill="none" stroke="#a9a9a9" stroke-width="1.35"/>
<circle cx="367.3" cy="498.1" r="1.95" fill="none" stroke="#a9a9a9" stroke-width="1.35"/>
<circle cx="361.2" cy="515.3" r="1.95" fill="none" stroke="#a9a9a9" stroke-width="1.35"/>
<circle cx="367.8" cy="514.7" r="1.95" fill="none" stroke="#a9a9a9" stroke-width="1.35"/>
<circle cx="355" cy="523.9" r="1.95" fill="none" stroke="#a9a9a9" stroke-width="1.35"/>
<circle cx="361.2" cy="528.5" r="1.95" fill="none" stroke="#a9a9a9" stroke-width="1.35"/>
<circle cx="367.3" cy="528.1" r="1.95" fill="none" stroke="#a9a9a9" stroke-width="1.35"/>
<circle cx="373.5" cy="524.2" r="1.95" fill="none" stroke="#a9a9a9" stroke-width="1.35"/>
<circle cx="364.2" cy="541.9" r="1.95" fill="none" stroke="#a9a9a9" stroke-width="1.35"/>
<line x1="351.9" y1="512.4" x2="377" y2="512.4" stroke="#000" stroke-width="1.5"/>
<line x1="358.1" y1="507" x2="370.4" y2="507" stroke="#000" stroke-width="1.5"/>
<line x1="358.1" y1="518.5" x2="370.4" y2="518.5" stroke="#000" stroke-width="1.5"/>
<line x1="364.2" y1="507" x2="364.2" y2="518.5" stroke="#000" stroke-width="1.5"/>
<circle cx="401.9" cy="486.5" r="1.9" fill="#ba2626" stroke="#951b1b" stroke-width="0.7"/>
<circle cx="395.8" cy="493.9" r="1.9" fill="#ba2626" stroke="#951b1b" stroke-width="0.7"/>
<circle cx="407.8" cy="491.9" r="1.9" fill="#ba2626" stroke="#951b1b" stroke-width="0.7"/>
<circle cx="401.9" cy="497.8" r="1.9" fill="#ba2626" stroke="#951b1b" stroke-width="0.7"/>
<circle cx="395.8" cy="507.3" r="1.9" fill="#ba2626" stroke="#951b1b" stroke-width="0.7"/>
<circle cx="407.8" cy="507.6" r="1.9" fill="#ba2626" stroke="#951b1b" stroke-width="0.7"/>
<circle cx="401.9" cy="510.7" r="1.9" fill="#ba2626" stroke="#951b1b" stroke-width="0.7"/>
<circle cx="395.8" cy="520.4" r="1.9" fill="#ba2626" stroke="#951b1b" stroke-width="0.7"/>
<circle cx="401.9" cy="521.9" r="1.9" fill="#ba2626" stroke="#951b1b" stroke-width="0.7"/>
<circle cx="407.8" cy="518.1" r="1.9" fill="#ba2626" stroke="#951b1b" stroke-width="0.7"/>
<circle cx="401.9" cy="531.9" r="1.9" fill="#ba2626" stroke="#951b1b" stroke-width="0.7"/>
<line x1="389.3" y1="507.8" x2="414.5" y2="507.8" stroke="#000" stroke-width="1.5"/>
<line x1="395.8" y1="503.9" x2="407.8" y2="503.9" stroke="#000" stroke-width="1.5"/>
<line x1="395.8" y1="512.4" x2="407.8" y2="512.4" stroke="#000" stroke-width="1.5"/>
<line x1="401.9" y1="503.9" x2="401.9" y2="512.4" stroke="#000" stroke-width="1.5"/>
<circle cx="433.8" cy="457.3" r="1.95" fill="none" stroke="#a9a9a9" stroke-width="1.35"/>
<circle cx="433.8" cy="467.7" r="1.9" fill="#ba2626" stroke="#951b1b" stroke-width="0.7"/>
<text x="445.22" y="461.5" font-size="9.7" fill="#111" stroke="#111" stroke-width="0.42">Hif-1</text>
<text transform="translate(466.11 461.50) scale(1.462 1)" x="-0.38" y="0" font-size="9.47" font-family="Liberation Serif, serif" fill="#111" stroke="#111" stroke-width="0.15">&#945;</text>
<text x="472.92" y="458.20" font-size="5.9" font-weight="bold" fill="#111" stroke="#111" stroke-width="0.29">fl/fl</text>
<text x="445.22" y="472.6" font-size="9.7" fill="#111" stroke="#111" stroke-width="0.42">Hif-1</text>
<text transform="translate(466.11 472.60) scale(1.462 1)" x="-0.38" y="0" font-size="9.47" font-family="Liberation Serif, serif" fill="#111" stroke="#111" stroke-width="0.15">&#945;</text>
<text x="472.81" y="469.20" font-size="6.6" font-weight="normal" fill="#111" stroke="#111" stroke-width="0.29">&#916;/&#916;</text>
</svg>
</body></html>
